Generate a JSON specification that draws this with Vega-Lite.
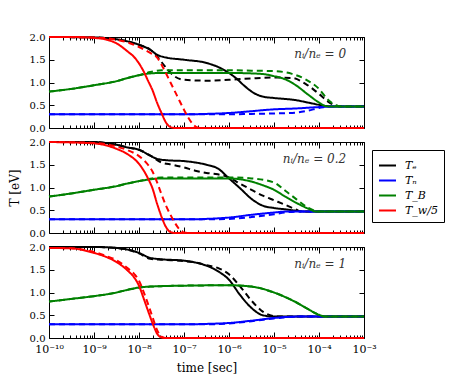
{
"$schema": "https://vega.github.io/schema/vega-lite/v6.json",
"background": "white",
"padding": {"left": 7, "top": 31, "right": 5, "bottom": 5},
"config": {
  "view": {"stroke": "black", "strokeWidth": 1},
  "font": "DejaVu Serif",
  "axis": {"labelFont": "DejaVu Serif", "labelFontSize": 10, "labelColor": "black", "tickColor": "black", "titleFont": "DejaVu Serif", "titleFontSize": 12, "titleFontWeight": "normal", "titleColor": "black", "grid": false, "domain": false},
  "legend": {"orient": "none", "legendX": 323, "legendY": 113, "title": null, "symbolType": "stroke", "symbolStrokeWidth": 2, "symbolSize": 289, "strokeColor": "black", "fillColor": "white", "padding": 6, "labelFont": "DejaVu Serif", "labelFontStyle": "italic", "labelFontSize": 11, "labelColor": "black", "rowPadding": 0, "labelOffset": 8, "cornerRadius": 0}
},
"data": {"values": [
{"p":"0","s":"Te","d":"s","t":1e-10,"T":2.0},{"p":"0","s":"Te","d":"s","t":1e-9,"T":1.99},{"p":"0","s":"Te","d":"s","t":3.162e-9,"T":1.95},{"p":"0","s":"Te","d":"s","t":1e-8,"T":1.83},{"p":"0","s":"Te","d":"s","t":1.778e-8,"T":1.72},{"p":"0","s":"Te","d":"s","t":2.512e-8,"T":1.61},{"p":"0","s":"Te","d":"s","t":3.548e-8,"T":1.56},{"p":"0","s":"Te","d":"s","t":1e-7,"T":1.50},{"p":"0","s":"Te","d":"s","t":3.162e-7,"T":1.43},{"p":"0","s":"Te","d":"s","t":7.943e-7,"T":1.27},{"p":"0","s":"Te","d":"s","t":1.413e-6,"T":1.10},{"p":"0","s":"Te","d":"s","t":2.239e-6,"T":0.92},{"p":"0","s":"Te","d":"s","t":3.548e-6,"T":0.77},{"p":"0","s":"Te","d":"s","t":5.623e-6,"T":0.69},{"p":"0","s":"Te","d":"s","t":1e-5,"T":0.66},{"p":"0","s":"Te","d":"s","t":3.162e-5,"T":0.61},{"p":"0","s":"Te","d":"s","t":5.623e-5,"T":0.56},{"p":"0","s":"Te","d":"s","t":1e-4,"T":0.51},{"p":"0","s":"Te","d":"s","t":1.585e-4,"T":0.48},{"p":"0","s":"Te","d":"s","t":3.162e-4,"T":0.47},{"p":"0","s":"Te","d":"s","t":1e-3,"T":0.47},
{"p":"0","s":"Te","d":"d","t":1e-10,"T":2.0},{"p":"0","s":"Te","d":"d","t":1e-9,"T":1.99},{"p":"0","s":"Te","d":"d","t":3.162e-9,"T":1.95},{"p":"0","s":"Te","d":"d","t":1e-8,"T":1.83},{"p":"0","s":"Te","d":"d","t":1.778e-8,"T":1.72},{"p":"0","s":"Te","d":"d","t":2.512e-8,"T":1.58},{"p":"0","s":"Te","d":"d","t":3.162e-8,"T":1.45},{"p":"0","s":"Te","d":"d","t":4.467e-8,"T":1.27},{"p":"0","s":"Te","d":"d","t":6.31e-8,"T":1.13},{"p":"0","s":"Te","d":"d","t":1e-7,"T":1.06},{"p":"0","s":"Te","d":"d","t":3.162e-7,"T":1.04},{"p":"0","s":"Te","d":"d","t":1e-6,"T":1.06},{"p":"0","s":"Te","d":"d","t":3.162e-6,"T":1.09},{"p":"0","s":"Te","d":"d","t":1e-5,"T":1.11},{"p":"0","s":"Te","d":"d","t":2.512e-5,"T":1.10},{"p":"0","s":"Te","d":"d","t":5.012e-5,"T":0.97},{"p":"0","s":"Te","d":"d","t":1e-4,"T":0.75},{"p":"0","s":"Te","d":"d","t":1.585e-4,"T":0.58},{"p":"0","s":"Te","d":"d","t":2.512e-4,"T":0.49},{"p":"0","s":"Te","d":"d","t":3.981e-4,"T":0.47},{"p":"0","s":"Te","d":"d","t":1e-3,"T":0.47},
{"p":"0","s":"Tn","d":"s","t":1e-10,"T":0.3},{"p":"0","s":"Tn","d":"s","t":1e-7,"T":0.3},{"p":"0","s":"Tn","d":"s","t":3.162e-7,"T":0.31},{"p":"0","s":"Tn","d":"s","t":1e-6,"T":0.33},{"p":"0","s":"Tn","d":"s","t":3.162e-6,"T":0.37},{"p":"0","s":"Tn","d":"s","t":1e-5,"T":0.41},{"p":"0","s":"Tn","d":"s","t":3.162e-5,"T":0.43},{"p":"0","s":"Tn","d":"s","t":1e-4,"T":0.46},{"p":"0","s":"Tn","d":"s","t":1.995e-4,"T":0.47},{"p":"0","s":"Tn","d":"s","t":1e-3,"T":0.47},
{"p":"0","s":"Tn","d":"d","t":1e-10,"T":0.3},{"p":"0","s":"Tn","d":"d","t":1e-6,"T":0.3},{"p":"0","s":"Tn","d":"d","t":3.162e-6,"T":0.31},{"p":"0","s":"Tn","d":"d","t":1e-5,"T":0.32},{"p":"0","s":"Tn","d":"d","t":3.162e-5,"T":0.34},{"p":"0","s":"Tn","d":"d","t":5.623e-5,"T":0.38},{"p":"0","s":"Tn","d":"d","t":1e-4,"T":0.44},{"p":"0","s":"Tn","d":"d","t":1.585e-4,"T":0.47},{"p":"0","s":"Tn","d":"d","t":1e-3,"T":0.47},
{"p":"0","s":"TB","d":"s","t":1e-10,"T":0.8},{"p":"0","s":"TB","d":"s","t":3.162e-10,"T":0.86},{"p":"0","s":"TB","d":"s","t":1e-9,"T":0.94},{"p":"0","s":"TB","d":"s","t":3.162e-9,"T":1.03},{"p":"0","s":"TB","d":"s","t":5.623e-9,"T":1.10},{"p":"0","s":"TB","d":"s","t":1e-8,"T":1.16},{"p":"0","s":"TB","d":"s","t":1.778e-8,"T":1.20},{"p":"0","s":"TB","d":"s","t":3.162e-8,"T":1.21},{"p":"0","s":"TB","d":"s","t":1e-6,"T":1.21},{"p":"0","s":"TB","d":"s","t":3.162e-6,"T":1.20},{"p":"0","s":"TB","d":"s","t":6.31e-6,"T":1.18},{"p":"0","s":"TB","d":"s","t":1e-5,"T":1.14},{"p":"0","s":"TB","d":"s","t":1.778e-5,"T":1.07},{"p":"0","s":"TB","d":"s","t":3.162e-5,"T":0.93},{"p":"0","s":"TB","d":"s","t":5.623e-5,"T":0.74},{"p":"0","s":"TB","d":"s","t":1e-4,"T":0.56},{"p":"0","s":"TB","d":"s","t":1.413e-4,"T":0.48},{"p":"0","s":"TB","d":"s","t":1.995e-4,"T":0.47},{"p":"0","s":"TB","d":"s","t":1e-3,"T":0.47},
{"p":"0","s":"TB","d":"d","t":1e-10,"T":0.8},{"p":"0","s":"TB","d":"d","t":3.162e-10,"T":0.86},{"p":"0","s":"TB","d":"d","t":1e-9,"T":0.94},{"p":"0","s":"TB","d":"d","t":3.162e-9,"T":1.03},{"p":"0","s":"TB","d":"d","t":5.623e-9,"T":1.10},{"p":"0","s":"TB","d":"d","t":1e-8,"T":1.16},{"p":"0","s":"TB","d":"d","t":1.778e-8,"T":1.23},{"p":"0","s":"TB","d":"d","t":3.162e-8,"T":1.27},{"p":"0","s":"TB","d":"d","t":1e-6,"T":1.27},{"p":"0","s":"TB","d":"d","t":3.162e-6,"T":1.26},{"p":"0","s":"TB","d":"d","t":1e-5,"T":1.25},{"p":"0","s":"TB","d":"d","t":2.512e-5,"T":1.19},{"p":"0","s":"TB","d":"d","t":5.012e-5,"T":1.07},{"p":"0","s":"TB","d":"d","t":1e-4,"T":0.86},{"p":"0","s":"TB","d":"d","t":1.585e-4,"T":0.62},{"p":"0","s":"TB","d":"d","t":2.512e-4,"T":0.49},{"p":"0","s":"TB","d":"d","t":3.162e-4,"T":0.47},{"p":"0","s":"TB","d":"d","t":1e-3,"T":0.47},
{"p":"0","s":"Tw","d":"s","t":1e-10,"T":2.0},{"p":"0","s":"Tw","d":"s","t":3.162e-10,"T":2.0},{"p":"0","s":"Tw","d":"s","t":1e-9,"T":1.98},{"p":"0","s":"Tw","d":"s","t":1.778e-9,"T":1.95},{"p":"0","s":"Tw","d":"s","t":3.162e-9,"T":1.86},{"p":"0","s":"Tw","d":"s","t":5.623e-9,"T":1.68},{"p":"0","s":"Tw","d":"s","t":7.943e-9,"T":1.55},{"p":"0","s":"Tw","d":"s","t":1e-8,"T":1.42},{"p":"0","s":"Tw","d":"s","t":1.259e-8,"T":1.25},{"p":"0","s":"Tw","d":"s","t":1.585e-8,"T":1.04},{"p":"0","s":"Tw","d":"s","t":1.995e-8,"T":0.83},{"p":"0","s":"Tw","d":"s","t":2.512e-8,"T":0.56},{"p":"0","s":"Tw","d":"s","t":3.162e-8,"T":0.33},{"p":"0","s":"Tw","d":"s","t":3.981e-8,"T":0.12},{"p":"0","s":"Tw","d":"s","t":5.012e-8,"T":0.02},{"p":"0","s":"Tw","d":"s","t":6.31e-8,"T":0},{"p":"0","s":"Tw","d":"s","t":1e-3,"T":0},
{"p":"0","s":"Tw","d":"d","t":1e-10,"T":2.0},{"p":"0","s":"Tw","d":"d","t":1e-9,"T":1.99},{"p":"0","s":"Tw","d":"d","t":3.162e-9,"T":1.94},{"p":"0","s":"Tw","d":"d","t":5.623e-9,"T":1.88},{"p":"0","s":"Tw","d":"d","t":1e-8,"T":1.78},{"p":"0","s":"Tw","d":"d","t":1.778e-8,"T":1.65},{"p":"0","s":"Tw","d":"d","t":2.512e-8,"T":1.55},{"p":"0","s":"Tw","d":"d","t":3.548e-8,"T":1.30},{"p":"0","s":"Tw","d":"d","t":5.012e-8,"T":1.0},{"p":"0","s":"Tw","d":"d","t":7.079e-8,"T":0.7},{"p":"0","s":"Tw","d":"d","t":1e-7,"T":0.4},{"p":"0","s":"Tw","d":"d","t":1.259e-7,"T":0.22},{"p":"0","s":"Tw","d":"d","t":1.585e-7,"T":0.08},{"p":"0","s":"Tw","d":"d","t":1.995e-7,"T":0.01},{"p":"0","s":"Tw","d":"d","t":2.512e-7,"T":0},{"p":"0","s":"Tw","d":"d","t":1e-3,"T":0},

{"p":"0.2","s":"Te","d":"s","t":1e-10,"T":2.0},{"p":"0.2","s":"Te","d":"s","t":1e-9,"T":2.0},{"p":"0.2","s":"Te","d":"s","t":1.778e-9,"T":1.98},{"p":"0.2","s":"Te","d":"s","t":3.162e-9,"T":1.94},{"p":"0.2","s":"Te","d":"s","t":5.623e-9,"T":1.88},{"p":"0.2","s":"Te","d":"s","t":1e-8,"T":1.83},{"p":"0.2","s":"Te","d":"s","t":1.778e-8,"T":1.70},{"p":"0.2","s":"Te","d":"s","t":2.512e-8,"T":1.63},{"p":"0.2","s":"Te","d":"s","t":3.981e-8,"T":1.60},{"p":"0.2","s":"Te","d":"s","t":1e-7,"T":1.58},{"p":"0.2","s":"Te","d":"s","t":3.162e-7,"T":1.50},{"p":"0.2","s":"Te","d":"s","t":5.623e-7,"T":1.42},{"p":"0.2","s":"Te","d":"s","t":1e-6,"T":1.20},{"p":"0.2","s":"Te","d":"s","t":1.778e-6,"T":0.98},{"p":"0.2","s":"Te","d":"s","t":3.162e-6,"T":0.75},{"p":"0.2","s":"Te","d":"s","t":5.623e-6,"T":0.60},{"p":"0.2","s":"Te","d":"s","t":1e-5,"T":0.55},{"p":"0.2","s":"Te","d":"s","t":1.778e-5,"T":0.52},{"p":"0.2","s":"Te","d":"s","t":3.162e-5,"T":0.49},{"p":"0.2","s":"Te","d":"s","t":5.623e-5,"T":0.47},{"p":"0.2","s":"Te","d":"s","t":1e-3,"T":0.47},
{"p":"0.2","s":"Te","d":"d","t":1e-10,"T":2.0},{"p":"0.2","s":"Te","d":"d","t":1e-9,"T":2.0},{"p":"0.2","s":"Te","d":"d","t":1.778e-9,"T":1.98},{"p":"0.2","s":"Te","d":"d","t":3.162e-9,"T":1.94},{"p":"0.2","s":"Te","d":"d","t":5.623e-9,"T":1.88},{"p":"0.2","s":"Te","d":"d","t":1e-8,"T":1.83},{"p":"0.2","s":"Te","d":"d","t":1.778e-8,"T":1.70},{"p":"0.2","s":"Te","d":"d","t":3.162e-8,"T":1.55},{"p":"0.2","s":"Te","d":"d","t":5.623e-8,"T":1.50},{"p":"0.2","s":"Te","d":"d","t":1e-7,"T":1.44},{"p":"0.2","s":"Te","d":"d","t":1.778e-7,"T":1.37},{"p":"0.2","s":"Te","d":"d","t":3.162e-7,"T":1.32},{"p":"0.2","s":"Te","d":"d","t":5.623e-7,"T":1.29},{"p":"0.2","s":"Te","d":"d","t":1e-6,"T":1.22},{"p":"0.2","s":"Te","d":"d","t":1.778e-6,"T":1.08},{"p":"0.2","s":"Te","d":"d","t":3.162e-6,"T":0.95},{"p":"0.2","s":"Te","d":"d","t":5.623e-6,"T":0.82},{"p":"0.2","s":"Te","d":"d","t":1e-5,"T":0.72},{"p":"0.2","s":"Te","d":"d","t":1.778e-5,"T":0.62},{"p":"0.2","s":"Te","d":"d","t":3.162e-5,"T":0.51},{"p":"0.2","s":"Te","d":"d","t":3.981e-5,"T":0.47},{"p":"0.2","s":"Te","d":"d","t":1e-3,"T":0.47},
{"p":"0.2","s":"Tn","d":"s","t":1e-10,"T":0.3},{"p":"0.2","s":"Tn","d":"s","t":1.778e-7,"T":0.3},{"p":"0.2","s":"Tn","d":"s","t":3.162e-7,"T":0.31},{"p":"0.2","s":"Tn","d":"s","t":1e-6,"T":0.34},{"p":"0.2","s":"Tn","d":"s","t":3.162e-6,"T":0.40},{"p":"0.2","s":"Tn","d":"s","t":1e-5,"T":0.45},{"p":"0.2","s":"Tn","d":"s","t":1.778e-5,"T":0.47},{"p":"0.2","s":"Tn","d":"s","t":1e-3,"T":0.47},
{"p":"0.2","s":"Tn","d":"d","t":1e-10,"T":0.3},{"p":"0.2","s":"Tn","d":"d","t":3.162e-7,"T":0.3},{"p":"0.2","s":"Tn","d":"d","t":1e-6,"T":0.31},{"p":"0.2","s":"Tn","d":"d","t":3.162e-6,"T":0.35},{"p":"0.2","s":"Tn","d":"d","t":1e-5,"T":0.41},{"p":"0.2","s":"Tn","d":"d","t":1.778e-5,"T":0.45},{"p":"0.2","s":"Tn","d":"d","t":3.162e-5,"T":0.47},{"p":"0.2","s":"Tn","d":"d","t":1e-3,"T":0.47},
{"p":"0.2","s":"TB","d":"s","t":1e-10,"T":0.8},{"p":"0.2","s":"TB","d":"s","t":3.162e-10,"T":0.87},{"p":"0.2","s":"TB","d":"s","t":1e-9,"T":0.95},{"p":"0.2","s":"TB","d":"s","t":3.162e-9,"T":1.03},{"p":"0.2","s":"TB","d":"s","t":5.623e-9,"T":1.09},{"p":"0.2","s":"TB","d":"s","t":1e-8,"T":1.14},{"p":"0.2","s":"TB","d":"s","t":1.778e-8,"T":1.18},{"p":"0.2","s":"TB","d":"s","t":3.162e-8,"T":1.20},{"p":"0.2","s":"TB","d":"s","t":1e-6,"T":1.20},{"p":"0.2","s":"TB","d":"s","t":1.778e-6,"T":1.18},{"p":"0.2","s":"TB","d":"s","t":3.162e-6,"T":1.13},{"p":"0.2","s":"TB","d":"s","t":5.623e-6,"T":1.05},{"p":"0.2","s":"TB","d":"s","t":1e-5,"T":0.95},{"p":"0.2","s":"TB","d":"s","t":1.778e-5,"T":0.80},{"p":"0.2","s":"TB","d":"s","t":3.162e-5,"T":0.66},{"p":"0.2","s":"TB","d":"s","t":5.623e-5,"T":0.54},{"p":"0.2","s":"TB","d":"s","t":8.913e-5,"T":0.47},{"p":"0.2","s":"TB","d":"s","t":1e-3,"T":0.47},
{"p":"0.2","s":"TB","d":"d","t":1e-10,"T":0.8},{"p":"0.2","s":"TB","d":"d","t":3.162e-10,"T":0.87},{"p":"0.2","s":"TB","d":"d","t":1e-9,"T":0.95},{"p":"0.2","s":"TB","d":"d","t":3.162e-9,"T":1.03},{"p":"0.2","s":"TB","d":"d","t":5.623e-9,"T":1.09},{"p":"0.2","s":"TB","d":"d","t":1e-8,"T":1.14},{"p":"0.2","s":"TB","d":"d","t":1.778e-8,"T":1.19},{"p":"0.2","s":"TB","d":"d","t":3.162e-8,"T":1.22},{"p":"0.2","s":"TB","d":"d","t":1e-6,"T":1.22},{"p":"0.2","s":"TB","d":"d","t":3.162e-6,"T":1.20},{"p":"0.2","s":"TB","d":"d","t":1e-5,"T":1.11},{"p":"0.2","s":"TB","d":"d","t":1.778e-5,"T":0.93},{"p":"0.2","s":"TB","d":"d","t":3.162e-5,"T":0.74},{"p":"0.2","s":"TB","d":"d","t":5.623e-5,"T":0.56},{"p":"0.2","s":"TB","d":"d","t":1e-4,"T":0.47},{"p":"0.2","s":"TB","d":"d","t":1e-3,"T":0.47},
{"p":"0.2","s":"Tw","d":"s","t":1e-10,"T":2.0},{"p":"0.2","s":"Tw","d":"s","t":1e-9,"T":1.97},{"p":"0.2","s":"Tw","d":"s","t":1.778e-9,"T":1.93},{"p":"0.2","s":"Tw","d":"s","t":3.162e-9,"T":1.85},{"p":"0.2","s":"Tw","d":"s","t":5.623e-9,"T":1.73},{"p":"0.2","s":"Tw","d":"s","t":1e-8,"T":1.52},{"p":"0.2","s":"Tw","d":"s","t":1.259e-8,"T":1.38},{"p":"0.2","s":"Tw","d":"s","t":1.585e-8,"T":1.2},{"p":"0.2","s":"Tw","d":"s","t":1.995e-8,"T":0.98},{"p":"0.2","s":"Tw","d":"s","t":2.512e-8,"T":0.65},{"p":"0.2","s":"Tw","d":"s","t":3.162e-8,"T":0.36},{"p":"0.2","s":"Tw","d":"s","t":3.981e-8,"T":0.13},{"p":"0.2","s":"Tw","d":"s","t":5.012e-8,"T":0.02},{"p":"0.2","s":"Tw","d":"s","t":6.31e-8,"T":0},{"p":"0.2","s":"Tw","d":"s","t":1e-3,"T":0},
{"p":"0.2","s":"Tw","d":"d","t":1e-10,"T":2.0},{"p":"0.2","s":"Tw","d":"d","t":1e-9,"T":1.98},{"p":"0.2","s":"Tw","d":"d","t":3.162e-9,"T":1.9},{"p":"0.2","s":"Tw","d":"d","t":5.623e-9,"T":1.82},{"p":"0.2","s":"Tw","d":"d","t":1e-8,"T":1.69},{"p":"0.2","s":"Tw","d":"d","t":1.585e-8,"T":1.50},{"p":"0.2","s":"Tw","d":"d","t":1.995e-8,"T":1.35},{"p":"0.2","s":"Tw","d":"d","t":2.512e-8,"T":1.12},{"p":"0.2","s":"Tw","d":"d","t":3.162e-8,"T":0.85},{"p":"0.2","s":"Tw","d":"d","t":3.981e-8,"T":0.6},{"p":"0.2","s":"Tw","d":"d","t":5.012e-8,"T":0.4},{"p":"0.2","s":"Tw","d":"d","t":6.31e-8,"T":0.22},{"p":"0.2","s":"Tw","d":"d","t":7.943e-8,"T":0.08},{"p":"0.2","s":"Tw","d":"d","t":1e-7,"T":0.01},{"p":"0.2","s":"Tw","d":"d","t":1.259e-7,"T":0},{"p":"0.2","s":"Tw","d":"d","t":1e-3,"T":0},

{"p":"1","s":"Te","d":"s","t":1e-10,"T":2.0},{"p":"1","s":"Te","d":"s","t":1e-9,"T":2.0},{"p":"1","s":"Te","d":"s","t":3.162e-9,"T":1.98},{"p":"1","s":"Te","d":"s","t":1e-8,"T":1.87},{"p":"1","s":"Te","d":"s","t":1.778e-8,"T":1.76},{"p":"1","s":"Te","d":"s","t":3.162e-8,"T":1.73},{"p":"1","s":"Te","d":"s","t":1e-7,"T":1.70},{"p":"1","s":"Te","d":"s","t":1.778e-7,"T":1.66},{"p":"1","s":"Te","d":"s","t":3.162e-7,"T":1.59},{"p":"1","s":"Te","d":"s","t":5.623e-7,"T":1.47},{"p":"1","s":"Te","d":"s","t":1e-6,"T":1.28},{"p":"1","s":"Te","d":"s","t":1.778e-6,"T":0.94},{"p":"1","s":"Te","d":"s","t":3.162e-6,"T":0.66},{"p":"1","s":"Te","d":"s","t":5.623e-6,"T":0.50},{"p":"1","s":"Te","d":"s","t":1e-5,"T":0.47},{"p":"1","s":"Te","d":"s","t":1e-3,"T":0.47},
{"p":"1","s":"Te","d":"d","t":1e-10,"T":2.0},{"p":"1","s":"Te","d":"d","t":1e-9,"T":2.0},{"p":"1","s":"Te","d":"d","t":3.162e-9,"T":1.98},{"p":"1","s":"Te","d":"d","t":1e-8,"T":1.86},{"p":"1","s":"Te","d":"d","t":1.778e-8,"T":1.74},{"p":"1","s":"Te","d":"d","t":3.162e-8,"T":1.72},{"p":"1","s":"Te","d":"d","t":1e-7,"T":1.69},{"p":"1","s":"Te","d":"d","t":1.778e-7,"T":1.66},{"p":"1","s":"Te","d":"d","t":3.162e-7,"T":1.60},{"p":"1","s":"Te","d":"d","t":5.623e-7,"T":1.54},{"p":"1","s":"Te","d":"d","t":1e-6,"T":1.40},{"p":"1","s":"Te","d":"d","t":1.778e-6,"T":1.13},{"p":"1","s":"Te","d":"d","t":3.162e-6,"T":0.82},{"p":"1","s":"Te","d":"d","t":5.623e-6,"T":0.58},{"p":"1","s":"Te","d":"d","t":1e-5,"T":0.48},{"p":"1","s":"Te","d":"d","t":1.259e-5,"T":0.47},{"p":"1","s":"Te","d":"d","t":1e-3,"T":0.47},
{"p":"1","s":"Tn","d":"s","t":1e-10,"T":0.3},{"p":"1","s":"Tn","d":"s","t":1e-7,"T":0.3},{"p":"1","s":"Tn","d":"s","t":3.162e-7,"T":0.31},{"p":"1","s":"Tn","d":"s","t":1e-6,"T":0.33},{"p":"1","s":"Tn","d":"s","t":3.162e-6,"T":0.38},{"p":"1","s":"Tn","d":"s","t":1e-5,"T":0.44},{"p":"1","s":"Tn","d":"s","t":1.778e-5,"T":0.46},{"p":"1","s":"Tn","d":"s","t":3.162e-5,"T":0.47},{"p":"1","s":"Tn","d":"s","t":1e-3,"T":0.47},
{"p":"1","s":"Tn","d":"d","t":1e-10,"T":0.3},{"p":"1","s":"Tn","d":"d","t":3.162e-7,"T":0.3},{"p":"1","s":"Tn","d":"d","t":1e-6,"T":0.32},{"p":"1","s":"Tn","d":"d","t":3.162e-6,"T":0.37},{"p":"1","s":"Tn","d":"d","t":1e-5,"T":0.43},{"p":"1","s":"Tn","d":"d","t":3.162e-5,"T":0.47},{"p":"1","s":"Tn","d":"d","t":1e-3,"T":0.47},
{"p":"1","s":"TB","d":"s","t":1e-10,"T":0.8},{"p":"1","s":"TB","d":"s","t":3.162e-10,"T":0.86},{"p":"1","s":"TB","d":"s","t":1e-9,"T":0.92},{"p":"1","s":"TB","d":"s","t":3.162e-9,"T":1.0},{"p":"1","s":"TB","d":"s","t":5.623e-9,"T":1.06},{"p":"1","s":"TB","d":"s","t":1e-8,"T":1.11},{"p":"1","s":"TB","d":"s","t":1.778e-8,"T":1.13},{"p":"1","s":"TB","d":"s","t":3.162e-8,"T":1.14},{"p":"1","s":"TB","d":"s","t":1e-7,"T":1.15},{"p":"1","s":"TB","d":"s","t":1e-6,"T":1.16},{"p":"1","s":"TB","d":"s","t":3.162e-6,"T":1.13},{"p":"1","s":"TB","d":"s","t":5.623e-6,"T":1.08},{"p":"1","s":"TB","d":"s","t":1e-5,"T":1.0},{"p":"1","s":"TB","d":"s","t":1.778e-5,"T":0.9},{"p":"1","s":"TB","d":"s","t":3.162e-5,"T":0.78},{"p":"1","s":"TB","d":"s","t":5.623e-5,"T":0.64},{"p":"1","s":"TB","d":"s","t":1e-4,"T":0.51},{"p":"1","s":"TB","d":"s","t":1.413e-4,"T":0.47},{"p":"1","s":"TB","d":"s","t":1e-3,"T":0.47},
{"p":"1","s":"TB","d":"d","t":1e-10,"T":0.8},{"p":"1","s":"TB","d":"d","t":3.162e-10,"T":0.86},{"p":"1","s":"TB","d":"d","t":1e-9,"T":0.92},{"p":"1","s":"TB","d":"d","t":3.162e-9,"T":1.0},{"p":"1","s":"TB","d":"d","t":5.623e-9,"T":1.06},{"p":"1","s":"TB","d":"d","t":1e-8,"T":1.11},{"p":"1","s":"TB","d":"d","t":1.778e-8,"T":1.13},{"p":"1","s":"TB","d":"d","t":3.162e-8,"T":1.14},{"p":"1","s":"TB","d":"d","t":1e-7,"T":1.15},{"p":"1","s":"TB","d":"d","t":1e-6,"T":1.16},{"p":"1","s":"TB","d":"d","t":3.162e-6,"T":1.13},{"p":"1","s":"TB","d":"d","t":5.623e-6,"T":1.08},{"p":"1","s":"TB","d":"d","t":1e-5,"T":1.0},{"p":"1","s":"TB","d":"d","t":1.778e-5,"T":0.9},{"p":"1","s":"TB","d":"d","t":3.162e-5,"T":0.78},{"p":"1","s":"TB","d":"d","t":5.623e-5,"T":0.64},{"p":"1","s":"TB","d":"d","t":1e-4,"T":0.51},{"p":"1","s":"TB","d":"d","t":1.413e-4,"T":0.47},{"p":"1","s":"TB","d":"d","t":1e-3,"T":0.47},
{"p":"1","s":"Tw","d":"s","t":1e-10,"T":1.98},{"p":"1","s":"Tw","d":"s","t":3.162e-10,"T":1.97},{"p":"1","s":"Tw","d":"s","t":1e-9,"T":1.87},{"p":"1","s":"Tw","d":"s","t":1.778e-9,"T":1.79},{"p":"1","s":"Tw","d":"s","t":3.162e-9,"T":1.67},{"p":"1","s":"Tw","d":"s","t":5.623e-9,"T":1.48},{"p":"1","s":"Tw","d":"s","t":7.943e-9,"T":1.32},{"p":"1","s":"Tw","d":"s","t":1e-8,"T":1.15},{"p":"1","s":"Tw","d":"s","t":1.259e-8,"T":0.88},{"p":"1","s":"Tw","d":"s","t":1.585e-8,"T":0.6},{"p":"1","s":"Tw","d":"s","t":1.995e-8,"T":0.33},{"p":"1","s":"Tw","d":"s","t":2.512e-8,"T":0.1},{"p":"1","s":"Tw","d":"s","t":3.162e-8,"T":0.01},{"p":"1","s":"Tw","d":"s","t":3.981e-8,"T":0},{"p":"1","s":"Tw","d":"s","t":1e-3,"T":0},
{"p":"1","s":"Tw","d":"d","t":1e-10,"T":1.98},{"p":"1","s":"Tw","d":"d","t":3.162e-10,"T":1.97},{"p":"1","s":"Tw","d":"d","t":1e-9,"T":1.89},{"p":"1","s":"Tw","d":"d","t":1.778e-9,"T":1.81},{"p":"1","s":"Tw","d":"d","t":3.162e-9,"T":1.71},{"p":"1","s":"Tw","d":"d","t":5.623e-9,"T":1.53},{"p":"1","s":"Tw","d":"d","t":7.943e-9,"T":1.40},{"p":"1","s":"Tw","d":"d","t":1e-8,"T":1.26},{"p":"1","s":"Tw","d":"d","t":1.259e-8,"T":1.02},{"p":"1","s":"Tw","d":"d","t":1.585e-8,"T":0.75},{"p":"1","s":"Tw","d":"d","t":1.995e-8,"T":0.46},{"p":"1","s":"Tw","d":"d","t":2.512e-8,"T":0.18},{"p":"1","s":"Tw","d":"d","t":3.162e-8,"T":0.03},{"p":"1","s":"Tw","d":"d","t":3.981e-8,"T":0},{"p":"1","s":"Tw","d":"d","t":1e-3,"T":0}
]},
"spacing": 14,
"bounds": "flush",
"vconcat": [
 {"width": 315, "height": 91,
  "layer": [
   {"transform": [{"filter": "datum.p == '0'"}],
    "mark": {"type": "line", "strokeWidth": 2, "interpolate": "monotone"},
    "encoding": {
     "x": {"field": "t", "type": "quantitative", "scale": {"type": "log", "domain": [1e-10, 1e-3], "nice": false}, "axis": {"orient": "bottom", "title": null, "labels": false, "tickCount": 10, "tickSize": {"condition": {"test": "abs(log(datum.value)/LN10 - round(log(datum.value)/LN10)) < 0.01", "value": -6}, "value": -3}}},
     "y": {"field": "T", "type": "quantitative", "scale": {"domain": [0, 2], "nice": false}, "axis": {"orient": "left", "title": null, "values": [0, 0.5, 1, 1.5, 2], "format": ".1f", "tickSize": -5, "labelPadding": 9}},
     "color": {"field": "s", "type": "nominal", "scale": {"domain": ["Te", "Tn", "TB", "Tw"], "range": ["#000000", "#0000ff", "#008000", "#ff0000"]}, "legend": {"labelExpr": "datum.label == 'Te' ? 'Tₑ' : datum.label == 'Tn' ? 'Tₙ' : datum.label == 'TB' ? 'T_B' : 'T_w/5'"}},
     "strokeDash": {"field": "d", "type": "nominal", "scale": {"domain": ["s", "d"], "range": [[1, 0], [6, 4]]}, "legend": null}
    }},
   {"data": {"values": [{"t": 4e-4, "T": 1.62, "label": "nᵢ/nₑ = 0"}]},
    "mark": {"type": "text", "align": "right", "baseline": "middle", "font": "DejaVu Serif", "fontStyle": "italic", "fontSize": 12, "color": "#333333"},
    "encoding": {
     "x": {"field": "t", "type": "quantitative", "scale": {"type": "log", "domain": [1e-10, 1e-3], "nice": false}, "axis": {"orient": "top", "title": null, "labels": false, "tickCount": 10, "tickSize": {"condition": {"test": "abs(log(datum.value)/LN10 - round(log(datum.value)/LN10)) < 0.01", "value": -6}, "value": -3}}},
     "y": {"field": "T", "type": "quantitative", "scale": {"domain": [0, 2], "nice": false}, "axis": {"orient": "right", "title": null, "labels": false, "values": [0, 0.5, 1, 1.5, 2], "tickSize": -5}},
     "text": {"field": "label"}
    }}
  ],
  "resolve": {"scale": {"x": "independent", "y": "independent"}}
 },
 {"width": 315, "height": 91,
  "layer": [
   {"transform": [{"filter": "datum.p == '0.2'"}],
    "mark": {"type": "line", "strokeWidth": 2, "interpolate": "monotone"},
    "encoding": {
     "x": {"field": "t", "type": "quantitative", "scale": {"type": "log", "domain": [1e-10, 1e-3], "nice": false}, "axis": {"orient": "bottom", "title": null, "labels": false, "tickCount": 10, "tickSize": {"condition": {"test": "abs(log(datum.value)/LN10 - round(log(datum.value)/LN10)) < 0.01", "value": -6}, "value": -3}}},
     "y": {"field": "T", "type": "quantitative", "scale": {"domain": [0, 2], "nice": false}, "axis": {"orient": "left", "title": "T [eV]", "titlePadding": 8, "values": [0, 0.5, 1, 1.5, 2], "format": ".1f", "tickSize": -5, "labelPadding": 9}},
     "color": {"field": "s", "type": "nominal", "scale": {"domain": ["Te", "Tn", "TB", "Tw"], "range": ["#000000", "#0000ff", "#008000", "#ff0000"]}, "legend": {"labelExpr": "datum.label == 'Te' ? 'Tₑ' : datum.label == 'Tn' ? 'Tₙ' : datum.label == 'TB' ? 'T_B' : 'T_w/5'"}},
     "strokeDash": {"field": "d", "type": "nominal", "scale": {"domain": ["s", "d"], "range": [[1, 0], [6, 4]]}, "legend": null}
    }},
   {"data": {"values": [{"t": 4e-4, "T": 1.62, "label": "nᵢ/nₑ = 0.2"}]},
    "mark": {"type": "text", "align": "right", "baseline": "middle", "font": "DejaVu Serif", "fontStyle": "italic", "fontSize": 12, "color": "#333333"},
    "encoding": {
     "x": {"field": "t", "type": "quantitative", "scale": {"type": "log", "domain": [1e-10, 1e-3], "nice": false}, "axis": {"orient": "top", "title": null, "labels": false, "tickCount": 10, "tickSize": {"condition": {"test": "abs(log(datum.value)/LN10 - round(log(datum.value)/LN10)) < 0.01", "value": -6}, "value": -3}}},
     "y": {"field": "T", "type": "quantitative", "scale": {"domain": [0, 2], "nice": false}, "axis": {"orient": "right", "title": null, "labels": false, "values": [0, 0.5, 1, 1.5, 2], "tickSize": -5}},
     "text": {"field": "label"}
    }}
  ],
  "resolve": {"scale": {"x": "independent", "y": "independent"}}
 },
 {"width": 315, "height": 91,
  "layer": [
   {"transform": [{"filter": "datum.p == '1'"}],
    "mark": {"type": "line", "strokeWidth": 2, "interpolate": "monotone"},
    "encoding": {
     "x": {"field": "t", "type": "quantitative", "scale": {"type": "log", "domain": [1e-10, 1e-3], "nice": false}, "axis": {"orient": "bottom", "title": "time [sec]", "titlePadding": 5, "labelFontSize": 11, "labelPadding": 11, "labelOverlap": false, "labelFlush": false, "labelBound": false, "tickCount": 10, "tickSize": {"condition": {"test": "abs(log(datum.value)/LN10 - round(log(datum.value)/LN10)) < 0.01", "value": -6}, "value": -3}, "labelExpr": "abs(log(datum.value)/LN10 - round(log(datum.value)/LN10)) < 0.01 ? ['10⁻¹⁰','10⁻⁹','10⁻⁸','10⁻⁷','10⁻⁶','10⁻⁵','10⁻⁴','10⁻³'][round(log(datum.value)/LN10)+10] : ''"}},
     "y": {"field": "T", "type": "quantitative", "scale": {"domain": [0, 2], "nice": false}, "axis": {"orient": "left", "title": null, "values": [0, 0.5, 1, 1.5, 2], "format": ".1f", "tickSize": -5, "labelPadding": 9}},
     "color": {"field": "s", "type": "nominal", "scale": {"domain": ["Te", "Tn", "TB", "Tw"], "range": ["#000000", "#0000ff", "#008000", "#ff0000"]}, "legend": {"labelExpr": "datum.label == 'Te' ? 'Tₑ' : datum.label == 'Tn' ? 'Tₙ' : datum.label == 'TB' ? 'T_B' : 'T_w/5'"}},
     "strokeDash": {"field": "d", "type": "nominal", "scale": {"domain": ["s", "d"], "range": [[1, 0], [6, 4]]}, "legend": null}
    }},
   {"data": {"values": [{"t": 4e-4, "T": 1.62, "label": "nᵢ/nₑ = 1"}]},
    "mark": {"type": "text", "align": "right", "baseline": "middle", "font": "DejaVu Serif", "fontStyle": "italic", "fontSize": 12, "color": "#333333"},
    "encoding": {
     "x": {"field": "t", "type": "quantitative", "scale": {"type": "log", "domain": [1e-10, 1e-3], "nice": false}, "axis": {"orient": "top", "title": null, "labels": false, "tickCount": 10, "tickSize": {"condition": {"test": "abs(log(datum.value)/LN10 - round(log(datum.value)/LN10)) < 0.01", "value": -6}, "value": -3}}},
     "y": {"field": "T", "type": "quantitative", "scale": {"domain": [0, 2], "nice": false}, "axis": {"orient": "right", "title": null, "labels": false, "values": [0, 0.5, 1, 1.5, 2], "tickSize": -5}},
     "text": {"field": "label"}
    }}
  ],
  "resolve": {"scale": {"x": "independent", "y": "independent"}}
 }
]
}
